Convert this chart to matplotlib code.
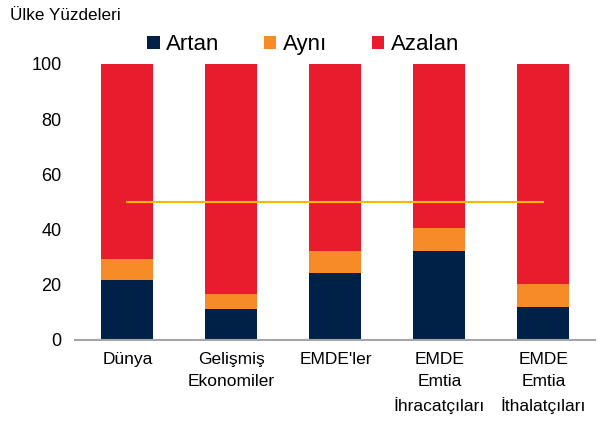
import matplotlib
matplotlib.use("Agg")
from matplotlib import pyplot as plt
import numpy as np

plt.rcParams["font.family"] = ["Liberation Sans", "DejaVu Sans"]

categories = ["Dünya", "Gelişmiş\nEkonomiler", "EMDE'ler", "EMDE\nEmtia\nİhracatçıları", "EMDE\nEmtia\nİthalatçıları"]
artan = [21.7, 11.2, 24.2, 32.4, 11.8]
ayni = [7.5, 5.5, 8.2, 8.2, 8.6]
azalan = [100 - a - b for a, b in zip(artan, ayni)]
ref_level = 50

fig = plt.figure(figsize=(5.99, 4.21), dpi=100)
ax = fig.add_axes([0.126, 0.1924, 0.868, 0.6556])

x = np.arange(len(categories))
w = 0.5
ax.bar(x, artan, w, color="#002147", label="Artan")
ax.bar(x, ayni, w, bottom=artan, color="#F68B28", label="Aynı")
ax.bar(x, azalan, w, bottom=np.add(artan, ayni), color="#E91C2D", label="Azalan")
ax.plot([x[0], x[-1]], [ref_level, ref_level], color="#FFB800", lw=1.5)

ax.set_xlim(-0.5, len(categories) - 0.5)
ax.set_ylim(0, 100)
ax.set_yticks(range(0, 101, 20))
ax.set_xticks(x)
ax.set_xticklabels(categories, fontsize=12.5, linespacing=1.55)
ax.tick_params(axis="y", length=0, labelsize=13, pad=10)
ax.tick_params(axis="x", length=0, pad=9)
for s in ["top", "right", "left"]:
    ax.spines[s].set_visible(False)
ax.spines["bottom"].set_color("#A6A6A6")
ax.spines["bottom"].set_linewidth(1.5)

fig.text(0.017, 0.963, "Ülke Yüzdeleri", fontsize=12.3, va="center")
ax.legend(loc="center", bbox_to_anchor=(0.438, 1.069), ncol=3, frameon=False,
          fontsize=16, handlelength=0.55, handleheight=0.55, handletextpad=0.3,
          columnspacing=2.0, borderaxespad=0)

fig.savefig("out.png", dpi=100)
